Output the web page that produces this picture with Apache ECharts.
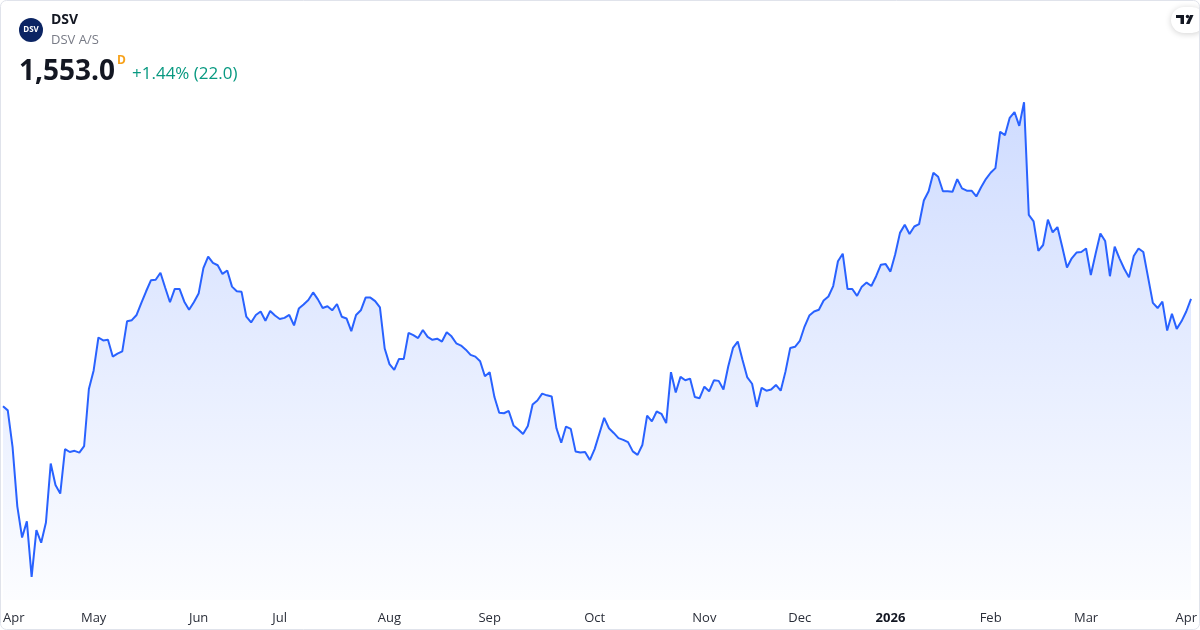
<!DOCTYPE html>
<html>
<head>
<meta charset="utf-8">
<script src="https://cdn.jsdelivr.net/npm/echarts@6.0.0/dist/echarts.min.js"></script>
<style>
  html, body { margin: 0; padding: 0; background: #fff; }
  #chart { width: 1200px; height: 630px; }
</style>
</head>
<body>
<div id="chart"></div>
<script>
// daily closes, DSV A/S (DKK), Apr 2025 -> Apr 2026
var closes = [
  1367, 1360, 1297, 1194, 1140, 1168, 1072, 1153, 1131, 1166,
  1268, 1231, 1216, 1293, 1288, 1290, 1287, 1298, 1397, 1429,
  1486, 1481, 1482, 1453, 1458, 1462, 1514, 1516, 1525, 1546,
  1566, 1585, 1586, 1598, 1572, 1547, 1570, 1570, 1548, 1534,
  1547, 1562, 1606, 1626, 1615, 1611, 1596, 1602, 1574, 1566,
  1565, 1522, 1512, 1525, 1531, 1515, 1532, 1524, 1518, 1520,
  1525, 1507, 1536, 1543, 1551, 1564, 1552, 1537, 1540, 1533,
  1544, 1522, 1519, 1497, 1525, 1533, 1555, 1555, 1549, 1538,
  1467, 1440, 1430, 1449, 1449, 1494, 1490, 1485, 1499, 1487,
  1482, 1484, 1479, 1495, 1488, 1476, 1472, 1465, 1456, 1453,
  1445, 1419, 1426, 1383, 1356, 1355, 1359, 1334, 1327, 1319,
  1333, 1370, 1377, 1389, 1386, 1384, 1329, 1304, 1332, 1328,
  1289, 1287, 1288, 1274, 1293, 1320, 1347, 1329, 1321, 1312,
  1309, 1305, 1289, 1283, 1300, 1351, 1341, 1358, 1354, 1338,
  1426, 1391, 1418, 1412, 1415, 1383, 1381, 1401, 1393, 1412,
  1411, 1396, 1436, 1468, 1479, 1447, 1417, 1406, 1366, 1399,
  1394, 1396, 1404, 1394, 1427, 1468, 1470, 1480, 1505, 1524,
  1531, 1534, 1550, 1557, 1575, 1618, 1631, 1570, 1570, 1558,
  1574, 1581, 1575, 1592, 1612, 1613, 1600, 1630, 1667, 1681,
  1665, 1678, 1682, 1723, 1739, 1771, 1764, 1739, 1739, 1738,
  1760, 1744, 1740, 1740, 1730, 1746, 1760, 1771, 1779, 1842,
  1836, 1866, 1876, 1852, 1893, 1698, 1687, 1636, 1646, 1690,
  1668, 1677, 1643, 1607, 1623, 1633, 1634, 1640, 1594, 1631,
  1666, 1653, 1592, 1643, 1623, 1605, 1590, 1627, 1640, 1634,
  1590, 1546, 1537, 1548, 1498, 1527, 1501, 1514, 1531, 1553
];

// bar index of the first session in each month, and its label
var tickIndex  = [0, 19, 41, 58, 81, 102, 124, 147, 167, 186, 207, 227, 248];
var tickLabels = ['Apr', 'May', 'Jun', 'Jul', 'Aug', 'Sep', 'Oct', 'Nov', 'Dec', '2026', 'Feb', 'Mar', 'Apr'];

var lastPrice = '1,553.0';
var change = '+1.44% (22.0)';

var categories = closes.map(function () { return ''; });
tickIndex.forEach(function (idx, k) { categories[idx] = tickLabels[k]; });

var FONT = '"Open Sans", "Noto Sans", sans-serif';

var myChart = echarts.init(document.getElementById('chart'));

var option = {
  animation: false,
  backgroundColor: '#ffffff',
  grid: { left: 2.7, right: 8.7, top: 60, bottom: 30 },
  xAxis: {
    type: 'category',
    data: categories,
    boundaryGap: false,
    axisLine: { show: false },
    axisTick: { show: false },
    splitLine: { show: false },
    axisLabel: {
      interval: function (idx, val) { return val !== ''; },
      margin: 12,
      color: '#2a2e39',
      fontSize: 13,
      fontFamily: FONT,
      alignMinLabel: 'left',
      hideOverlap: false,
      formatter: function (val) {
        return /^\d{4}$/.test(val) ? '{y|' + val + '}' : val;
      },
      rich: {
        y: { fontWeight: 'bold', fontSize: 13, color: '#131722', fontFamily: FONT }
      }
    }
  },
  yAxis: {
    type: 'value',
    show: false,
    min: 1032,
    max: 1966,
    splitLine: { show: false }
  },
  series: [{
    type: 'line',
    data: closes,
    symbol: 'none',
    lineStyle: { color: '#2962ff', width: 2 },
    areaStyle: {
      color: new echarts.graphic.LinearGradient(0, 0, 0, 1, [
        { offset: 0, color: 'rgba(41,98,255,0.32)' },
        { offset: 1, color: 'rgba(41,98,255,0.02)' }
      ])
    }
  }],
  graphic: [
    // outer frame
    { type: 'rect', silent: true, z: 100,
      shape: { x: 0.5, y: 0.5, width: 1199, height: 629, r: 6 },
      style: { fill: 'none', stroke: '#e0e3eb', lineWidth: 1 } },
    // logo
    { type: 'circle', shape: { cx: 31, cy: 30, r: 12 }, style: { fill: '#0b2463' } },
    { type: 'text', x: 31, y: 30,
      style: { text: 'DSV', fill: '#fff', font: 'bold 8px ' + FONT, align: 'center', verticalAlign: 'middle' } },
    { type: 'text', x: 51, y: 20,
      style: { text: 'DSV', fill: '#131722', font: 'bold 14px ' + FONT, verticalAlign: 'middle' } },
    { type: 'text', x: 51, y: 40,
      style: { text: 'DSV A/S', fill: '#787b86', font: '13px ' + FONT, verticalAlign: 'middle' } },
    { type: 'text', x: 19, y: 72,
      style: { text: lastPrice, fill: '#131722', font: 'bold 28px ' + FONT, verticalAlign: 'middle' } },
    { type: 'text', x: 117, y: 61,
      style: { text: 'D', fill: '#f7a21b', font: 'bold 12px ' + FONT, verticalAlign: 'middle' } },
    { type: 'text', x: 132, y: 74,
      style: { text: change, fill: '#089981', font: '17px ' + FONT, verticalAlign: 'middle' } },
    // tradingview badge
    { type: 'rect', shape: { x: 1171, y: 7, width: 34, height: 26, r: 13 },
      style: { fill: '#fff', shadowBlur: 6, shadowColor: 'rgba(0,0,0,0.18)', shadowOffsetY: 1 } },
    { type: 'rect', shape: { x: 1176, y: 15, width: 8, height: 3 }, style: { fill: '#131722' } },
    { type: 'rect', shape: { x: 1180.5, y: 15, width: 3.5, height: 9 }, style: { fill: '#131722' } },
    { type: 'circle', shape: { cx: 1187.5, cy: 16.5, r: 1.7 }, style: { fill: '#131722' } },
    { type: 'polygon', shape: { points: [[1186, 24], [1190, 15], [1193.5, 15], [1189.5, 24]] }, style: { fill: '#131722' } }
  ]
};

myChart.setOption(option);
</script>
</body>
</html>
